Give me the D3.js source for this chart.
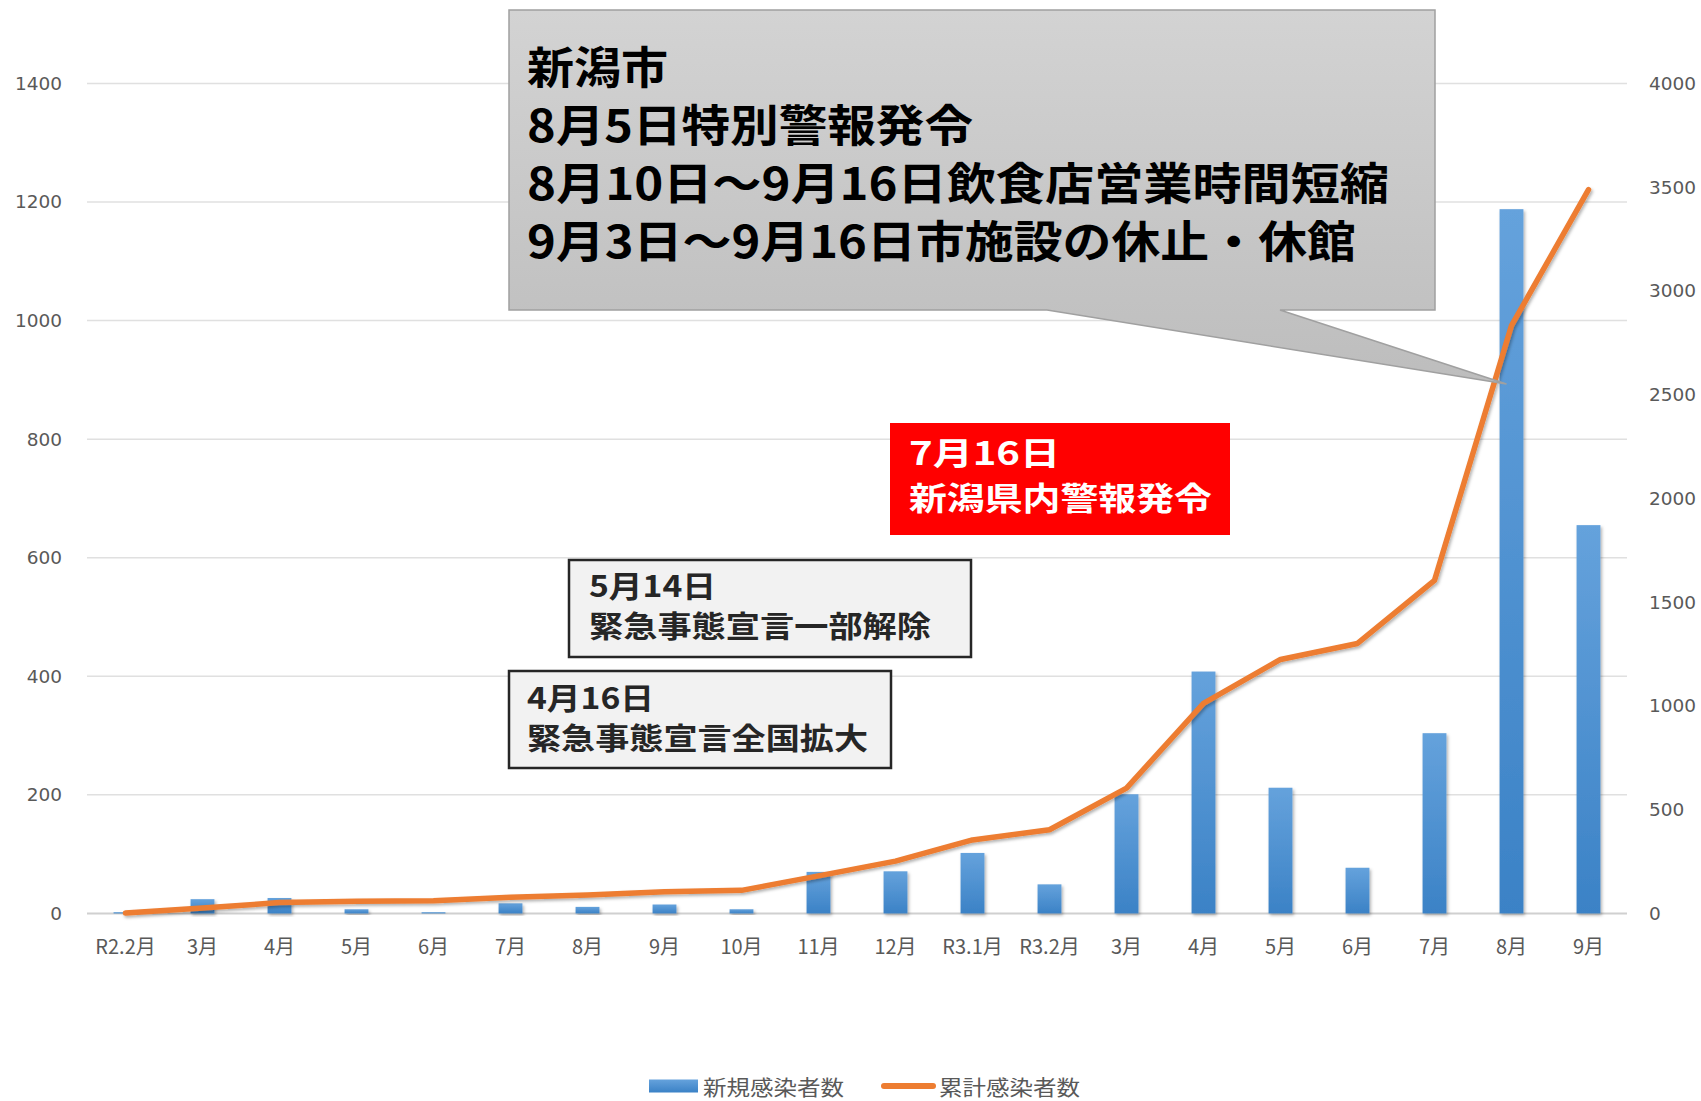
<!DOCTYPE html>
<html>
<head>
<meta charset="utf-8">
<script src="https://cdn.jsdelivr.net/npm/d3@7"></script>
<style>
  body { margin: 0; background: #fff; }
  svg { display: block; }
</style>
</head>
<body>
<div id="chart"></div>
<script>
const months = ["R2.2月","3月","4月","5月","6月","7月","8月","9月","10月","11月","12月","R3.1月","R3.2月","3月","4月","5月","6月","7月","8月","9月"];
const newCases = [2, 24, 26, 7, 2, 17, 11, 15, 7, 70, 71, 102, 49, 201, 408, 212, 77, 304, 1188, 655];
const totalCases = [2, 26, 52, 59, 61, 78, 89, 104, 111, 181, 252, 354, 403, 604, 1012, 1224, 1301, 1605, 2833, 3488];
const leftTicks = [0, 200, 400, 600, 800, 1000, 1200, 1400];
const rightTicks = [0, 500, 1000, 1500, 2000, 2500, 3000, 3500, 4000];
const seriesNames = ["新規感染者数", "累計感染者数"];
const calloutLines = ["新潟市", "8月5日特別警報発令", "8月10日～9月16日飲食店営業時間短縮", "9月3日～9月16日市施設の休止・休館"];
const redLines = ["7月16日", "新潟県内警報発令"];
const mayLines = ["5月14日", "緊急事態宣言一部解除"];
const aprLines = ["4月16日", "緊急事態宣言全国拡大"];

const W = 1701, H = 1101;
const plot = {left: 87, right: 1627, top: 83.5, bottom: 913.4};

const svg = d3.select("#chart").append("svg")
    .attr("width", W)
    .attr("height", H);

const defs = svg.append("defs");
const barGrad = defs.append("linearGradient").attr("id", "barGrad")
    .attr("x1", 0).attr("y1", 0).attr("x2", 0).attr("y2", 1);
barGrad.append("stop").attr("offset", "0%").attr("stop-color", "#65a2dc");
barGrad.append("stop").attr("offset", "100%").attr("stop-color", "#3b82c6");
const boxGrad = defs.append("linearGradient").attr("id", "boxGrad")
    .attr("x1", 0).attr("y1", 0).attr("x2", 0).attr("y2", 1);
boxGrad.append("stop").attr("offset", "0%").attr("stop-color", "#d3d3d3");
boxGrad.append("stop").attr("offset", "100%").attr("stop-color", "#bdbdbd");
const shadow = defs.append("filter").attr("id", "shadow")
    .attr("x", "-10%").attr("y", "-10%").attr("width", "130%").attr("height", "130%");
shadow.append("feDropShadow").attr("dx", 1.5).attr("dy", 2).attr("stdDeviation", 1.5)
    .attr("flood-color", "#000").attr("flood-opacity", 0.3);

const x = d3.scaleBand().domain(d3.range(months.length)).range([plot.left, plot.right]);
const yL = d3.scaleLinear().domain([0, 1400]).range([plot.bottom, plot.top]);
const yR = d3.scaleLinear().domain([0, 4000]).range([plot.bottom, plot.top]);

// gridlines
svg.append("g")
    .selectAll("line")
    .data(leftTicks)
    .join("line")
    .attr("x1", plot.left).attr("x2", plot.right)
    .attr("y1", d => yL(d)).attr("y2", d => yL(d))
    .attr("stroke", d => d === 0 ? "#d0d0d0" : "#e0e0e0")
    .attr("stroke-width", d => d === 0 ? 2 : 1.5);

// left axis labels
const leftAxis = d3.axisLeft(yL).tickValues(leftTicks).tickFormat(d3.format("d")).tickSize(0).tickPadding(0);
svg.append("g")
    .attr("transform", "translate(62,0)")
    .call(leftAxis)
    .call(g => g.select(".domain").remove())
    .selectAll("text")
    .attr("font-family", "DejaVu Sans, sans-serif")
    .attr("font-size", 18.5)
    .attr("fill", "#595959");

// right axis labels
const rightAxis = d3.axisRight(yR).tickValues(rightTicks).tickFormat(d3.format("d")).tickSize(0).tickPadding(0);
svg.append("g")
    .attr("transform", "translate(1649,0)")
    .call(rightAxis)
    .call(g => g.select(".domain").remove())
    .selectAll("text")
    .attr("font-family", "DejaVu Sans, sans-serif")
    .attr("font-size", 18.5)
    .attr("fill", "#595959");

// x labels
const xAxis = d3.axisBottom(x).tickFormat(i => months[i]).tickSize(0).tickPadding(0);
svg.append("g")
    .attr("transform", "translate(0,940)")
    .call(xAxis)
    .call(g => g.select(".domain").remove())
    .selectAll("text")
    .attr("font-family", "'Liberation Sans Narrow', 'Noto Sans CJK JP', sans-serif")
    .attr("font-size", 20)
    .attr("fill", "#595959");

// bars
const barW = x.bandwidth() * 0.31;
svg.append("g")
    .selectAll("rect")
    .data(newCases)
    .join("rect")
    .attr("x", (d, i) => x(i) + (x.bandwidth() - barW) / 2)
    .attr("y", d => yL(d))
    .attr("width", barW)
    .attr("height", d => plot.bottom - yL(d))
    .attr("fill", "url(#barGrad)")
    .attr("filter", "url(#shadow)");

// cumulative line
const line = d3.line()
    .x((d, i) => x(i) + x.bandwidth() / 2)
    .y(d => yR(d));
svg.append("path")
    .datum(totalCases)
    .attr("d", line)
    .attr("fill", "none")
    .attr("stroke", "#ed7d31")
    .attr("stroke-width", 5.5)
    .attr("stroke-linejoin", "round")
    .attr("stroke-linecap", "round")
    .attr("filter", "url(#shadow)");

// callout with pointer
const cb = {x0: 509, y0: 10, x1: 1435, y1: 310};
const tip = [x(18) + x.bandwidth() / 2 - 5, 384];
svg.append("path")
    .attr("d", `M${cb.x0},${cb.y0} L${cb.x1},${cb.y0} L${cb.x1},${cb.y1} L1280,${cb.y1} L${tip[0]},${tip[1]} L1047,${cb.y1} L${cb.x0},${cb.y1} Z`)
    .attr("fill", "url(#boxGrad)")
    .attr("stroke", "#a0a0a0")
    .attr("stroke-width", 1.5);

function textBlock(lines, x0, ys, size, widths, color) {
    svg.append("g")
        .selectAll("text")
        .data(lines)
        .join("text")
        .attr("x", x0)
        .attr("y", (d, i) => ys[i])
        .attr("dominant-baseline", "central")
        .attr("font-family", "'Noto Sans CJK JP', sans-serif")
        .attr("font-weight", 700)
        .attr("font-size", size)
        .attr("fill", color)
        .attr("textLength", (d, i) => widths[i])
        .attr("lengthAdjust", "spacingAndGlyphs")
        .text(d => d);
}

textBlock(calloutLines, 527, [65, 123, 181, 239], 44, [141, 446, 862, 829], "#000");

// red box
svg.append("rect")
    .attr("x", 890).attr("y", 423).attr("width", 340).attr("height", 112)
    .attr("fill", "#ff0000");
textBlock(redLines, 909, [451, 496], 32, [151, 303], "#fff");

// 5/14 box
svg.append("rect")
    .attr("x", 569).attr("y", 560).attr("width", 402).attr("height", 97)
    .attr("fill", "#f2f2f2").attr("stroke", "#262626").attr("stroke-width", 2.5);
textBlock(mayLines, 589, [584, 624], 30, [127, 342], "#262626");

// 4/16 box
svg.append("rect")
    .attr("x", 509).attr("y", 671).attr("width", 382).attr("height", 97)
    .attr("fill", "#f2f2f2").attr("stroke", "#262626").attr("stroke-width", 2.5);
textBlock(aprLines, 527, [696, 736], 30, [127, 341], "#262626");

// legend
const legend = svg.append("g").attr("transform", "translate(0,1086)");
legend.append("rect")
    .attr("x", 649).attr("y", -6.5).attr("width", 49).attr("height", 13)
    .attr("fill", "url(#barGrad)");
legend.append("line")
    .attr("x1", 884).attr("x2", 933).attr("y1", 0).attr("y2", 0)
    .attr("stroke", "#ed7d31").attr("stroke-width", 6).attr("stroke-linecap", "round");
legend.selectAll("text")
    .data(seriesNames)
    .join("text")
    .attr("x", (d, i) => i === 0 ? 703 : 939)
    .attr("y", 0)
    .attr("dominant-baseline", "central")
    .attr("font-family", "'Noto Sans CJK JP', sans-serif")
    .attr("font-size", 21)
    .attr("fill", "#595959")
    .attr("textLength", 141)
    .attr("lengthAdjust", "spacingAndGlyphs")
    .text(d => d);
</script>
</body>
</html>
